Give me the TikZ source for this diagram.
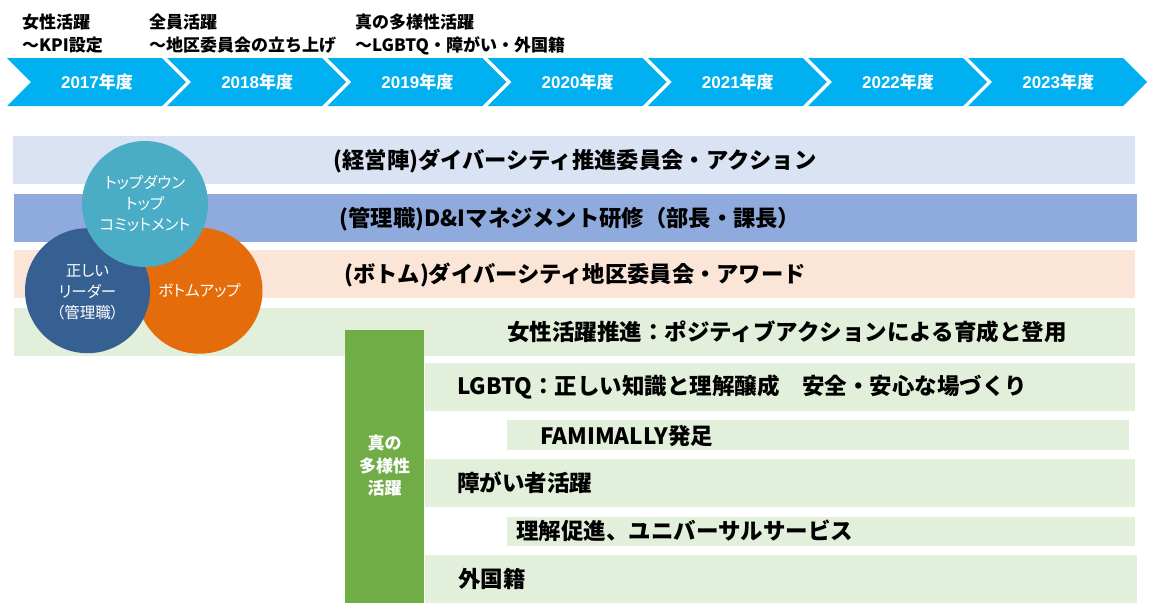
\documentclass[tikz,border=0pt]{standalone}
\usepackage{fontspec}
\setmainfont{Noto Sans CJK JP}
\newfontfamily\lib{Liberation Sans}
\newfontfamily\jpp{Noto Sans CJK JP}[RawFeature=+palt]
\definecolor{chev}{HTML}{00B0F0}
\definecolor{bandA}{HTML}{DAE3F3}
\definecolor{bandB}{HTML}{8FAADC}
\definecolor{bandC}{HTML}{FBE5D6}
\definecolor{bandG}{HTML}{E2EFDA}
\definecolor{barG}{HTML}{70AD47}
\definecolor{cteal}{HTML}{4BACC6}
\definecolor{cnavy}{HTML}{366092}
\definecolor{corange}{HTML}{E46C0A}
\tikzset{
  toplabel/.style={inner sep=0pt, text height=13.6pt, text depth=1.4pt, anchor=west, font=\fontsize{17}{20}\selectfont\bfseries},
  yearlabel/.style={inner sep=0pt, text height=13.6pt, text depth=1.4pt, text=white, font=\fontsize{17}{20}\selectfont\bfseries},
  bandtext/.style={inner sep=0pt, text height=17.8pt, text depth=1.8pt, font=\fontsize{22.3}{26}\selectfont\bfseries},
  rowtext/.style={inner sep=0pt, text height=18pt, text depth=1.8pt, anchor=west, font=\fontsize{22.5}{26}\selectfont\bfseries},
  circtext/.style={inner sep=0pt, align=center, text=white, font=\jpp\fontsize{15.5}{21}\selectfont},
}
\begin{document}
\begin{tikzpicture}[x=1pt,y=-1pt]
\useasboundingbox (0,0) rectangle (1150,606);
% top labels
\node[toplabel] (t1a) at (22,22) {女性活躍};
\node[toplabel] (t1b) at (22,45) {～KPI設定};
\node[toplabel] (t2a) at (149,22) {全員活躍};
\node[toplabel] (t2b) at (149,45) {～地区委員会の立ち上げ};
\node[toplabel] (t3a) at (355,22) {真の多様性活躍};
\node[toplabel] (t3b) at (355,45) {～LGBTQ・障がい・外国籍};
% chevrons
\foreach \i/\yr in {0/2017,1/2018,2/2019,3/2020,4/2021,5/2022,6/2023}{
  \pgfmathsetmacro{\xo}{7+160.2*\i}
  \fill[chev] (\xo,58) -- ({\xo+155},58) -- ({\xo+179},82) -- ({\xo+155},106) -- (\xo,106) -- ({\xo+24},82) -- cycle;
  \node[yearlabel] (y\yr) at ({\xo+90},82) {{\lib\bfseries \yr}年度};
}
% top bands
\fill[bandA] (13,136) rectangle (1135,184);
\fill[bandB] (14,194) rectangle (1137,242);
\fill[bandC] (14,250) rectangle (1135,298);
\fill[bandG] (14,308) rectangle (1135,356);
\node[bandtext] (b1) at (575,160) {(経営陣)ダイバーシティ推進委員会・アクション};
\node[bandtext] (b2) at (570,218) {(管理職)D\&Iマネジメント研修（部長・課長）};
\node[bandtext] (b3) at (575,274) {(ボトム)ダイバーシティ地区委員会・アワード};
% lower rows
\fill[bandG] (425,363) rectangle (1135,411);
\fill[bandG] (507,420) rectangle (1129,450);
\fill[bandG] (425,459) rectangle (1135,507);
\fill[bandG] (507,517) rectangle (1135,546);
\fill[bandG] (425,555) rectangle (1137,603);
\fill[barG] (345,330) rectangle (424,603);
\node[rowtext] (r1) at (507,332) {女性活躍推進：ポジティブアクションによる育成と登用};
\node[rowtext] (r2) at (457,386) {LGBTQ：正しい知識と理解醸成　安全・安心な場づくり};
\node[rowtext] (r3) at (540,436) {FAMIMALLY発足};
\node[rowtext] (r4) at (457,483) {障がい者活躍};
\node[rowtext] (r5) at (516,531) {理解促進、ユニバーサルサービス};
\node[rowtext] (r6) at (458,579) {外国籍};
\node[inner sep=0pt, align=center, text=white, font=\fontsize{17}{22.5}\selectfont\bfseries] (bar) at (384.5,466) {真の\\多様性\\活躍};
% circles
\fill[corange] (199.5,290.7) circle[radius=63];
\fill[cnavy] (87.5,290.7) circle[radius=62.5];
\fill[cteal] (145,204) circle[radius=63];
\node[circtext] (c1) at (145,204) {トップダウン\\トップ\\コミットメント};
\node[circtext] (c2) at (87.5,292) {正しい\\リーダー\\（管理職）};
\node[circtext] (c3) at (199.5,291) {ボトムアップ};
\end{tikzpicture}
\end{document}
